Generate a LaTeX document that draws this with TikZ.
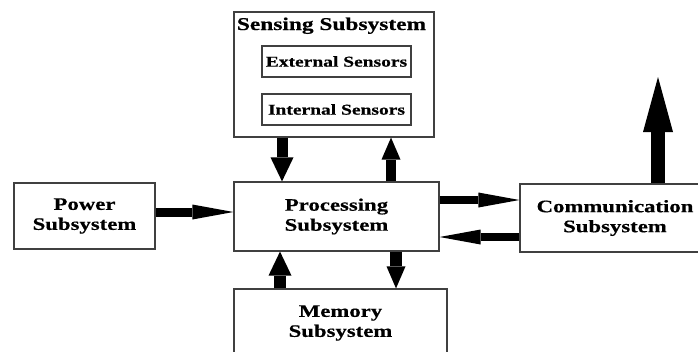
\documentclass[tikz,border=0pt]{standalone}
\usepackage{fontspec}
\setmainfont{Liberation Serif}[FakeStretch=1.3, BoldFeatures={FakeBold=0.5}]
\usetikzlibrary{arrows.meta,positioning}
\tikzset{
  box/.style={draw=black!75, line width=1.2pt, fill=white, rectangle, inner sep=0pt,
    align=center, font=\fontsize{17.5}{20}\selectfont\bfseries},
  inbox/.style={box, font=\fontsize{15}{17}\selectfont\bfseries},
  title/.style={font=\fontsize{18}{20}\selectfont\bfseries, inner sep=0pt, anchor=base},
  fat/.style={line width=#1, draw=black},
  tipA/.style={-{Triangle[length=24pt,width=23pt,line width=0pt]}},
  tipB/.style={-{Triangle[length=22pt,width=19pt,line width=0pt]}},
  tipH/.style={-{Triangle[length=41pt,width=15pt,line width=0pt]}},
  tipBig/.style={-{Triangle[length=55pt,width=30pt,line width=0pt]}}
}
\begin{document}
\begin{tikzpicture}[x=1pt,y=-1pt]
\useasboundingbox (0,0) rectangle (698,351);

% blocks
\node[box, minimum width=200pt, minimum height=125pt] (sense) at (334,74.5) {};
\node[title] (senseT) at (331.5,30) {Sensing Subsystem};
\node[inbox, minimum width=149pt, minimum height=31pt] (ext) at (336.5,61.5) {External Sensors};
\node[inbox, minimum width=149pt, minimum height=31pt] (int) at (336.5,109.5) {Internal Sensors};

\node[box, minimum width=141pt, minimum height=66pt] (power) at (84.5,216) {Power\\Subsystem};
\node[box, minimum width=205pt, minimum height=69pt] (proc) at (336.5,216.5) {Processing\\Subsystem};
\node[box, minimum width=213pt, minimum height=68pt] (mem) at (340.5,323) {Memory\\Subsystem};
\node[box, minimum width=190pt, minimum height=68pt] (comm) at (615,218) {Communication\\Subsystem};
\coordinate (air) at (658,77);

% connectors
\draw[fat=11pt, tipA] ([xshift=-52pt]sense.south) -- ([xshift=-52pt]sense.south |- proc.north);
\draw[fat=10pt, tipB] ([xshift=57pt]sense.south |- proc.north) -- ([xshift=57pt]sense.south);
\draw[fat=12pt, tipA] ([xshift=-60.5pt]mem.north) -- ([xshift=-60.5pt]mem.north |- proc.south);
\draw[fat=12pt, tipB] ([xshift=55.5pt]mem.north |- proc.south) -- ([xshift=55.5pt]mem.north);
\draw[fat=9pt, tipH] ([yshift=4pt]power.east) -- ([yshift=4pt]power.east -| proc.west);
\draw[fat=7.5pt, tipH] ([yshift=16.5pt]proc.east) -- ([yshift=16.5pt]proc.east -| comm.west);
\draw[fat=7.5pt, tipH] ([yshift=-19pt]comm.west) -- ([yshift=-19pt]comm.west -| proc.east);
\draw[fat=14pt, tipBig] (air |- comm.north) -- (air);
\end{tikzpicture}
\end{document}
